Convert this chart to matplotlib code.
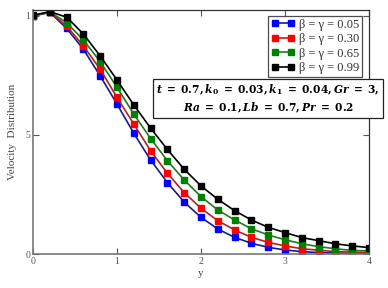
import numpy as np
import matplotlib
matplotlib.use("Agg")
import matplotlib.pyplot as plt

y_vals = [0.0, 0.2, 0.4, 0.6, 0.8, 1.0, 1.2, 1.4, 1.6, 1.8, 2.0, 2.2, 2.4, 2.6, 2.8, 3.0, 3.2, 3.4, 3.6, 3.8, 4.0]
v_005 = [1.0, 1.015, 0.948, 0.860, 0.748, 0.630, 0.507, 0.395, 0.300, 0.218, 0.154, 0.105, 0.070, 0.045, 0.028, 0.017, 0.010, 0.006, 0.004, 0.002, 0.001]
v_030 = [1.0, 1.016, 0.958, 0.874, 0.776, 0.658, 0.546, 0.434, 0.339, 0.258, 0.192, 0.140, 0.101, 0.070, 0.049, 0.034, 0.022, 0.016, 0.010, 0.008, 0.006]
v_065 = [1.0, 1.017, 0.972, 0.899, 0.808, 0.700, 0.588, 0.485, 0.392, 0.311, 0.241, 0.185, 0.143, 0.106, 0.080, 0.060, 0.043, 0.031, 0.022, 0.015, 0.013]
v_099 = [1.003, 1.018, 0.995, 0.924, 0.832, 0.731, 0.626, 0.529, 0.439, 0.356, 0.286, 0.230, 0.182, 0.143, 0.112, 0.090, 0.069, 0.056, 0.043, 0.034, 0.027]
labels = ["β = γ = 0.05", "β = γ = 0.30", "β = γ = 0.65", "β = γ = 0.99"]
series = [v_005, v_030, v_065, v_099]
line_colors = ["#1a1a8c", "#b22222", "#1f7a1f", "#000000"]
marker_colors = ["#0000ff", "#ff0000", "#008000", "#000000"]
xticks = [0, 1, 2, 3, 4]
yticks = [0, 0.5, 1]
yticklabels = ["0", "5", "1"]

plt.rcParams['font.family'] = ['Liberation Serif', 'DejaVu Serif']
plt.rcParams['mathtext.fontset'] = 'dejavuserif'

fig = plt.figure(figsize=(3.88, 2.88), dpi=100)
ax = fig.add_axes([33/388, 1-254/288, 336/388, 244/288])

for vals, lab, lc, mc in zip(series, labels, line_colors, marker_colors):
    ax.plot(y_vals, vals, '-', color=lc, lw=1.2, marker='s', ms=5,
            mfc=mc, mec=mc, label=lab)

ax.set_xlim(0, 4)
ax.set_ylim(0, 1.025)
ax.set_xticks(xticks)
ax.set_xticklabels([str(t) for t in xticks])
ax.set_yticks(yticks)
ax.set_yticklabels(yticklabels)
ax.tick_params(direction='in', length=4, labelsize=7, colors='#555555',
               top=True, right=True, pad=2)
for s in ['left', 'bottom']:
    ax.spines[s].set_color('#777777')
    ax.spines[s].set_linewidth(1.2)
for s in ['top', 'right']:
    ax.spines[s].set_color('#333333')
    ax.spines[s].set_linewidth(0.9)

ax.set_xlabel('y', fontsize=8, color='#444444', labelpad=2)
ax.set_ylabel('Velocity  Distribution', fontsize=8, color='#444444', labelpad=6)

leg = ax.legend(loc='upper right', bbox_to_anchor=(0.98, 0.977), fontsize=9,
                frameon=True, fancybox=False, edgecolor='#222222', numpoints=2,
                handlelength=1.9, handletextpad=0.35, borderpad=0.25,
                labelspacing=0.2, borderaxespad=0)
leg.get_frame().set_linewidth(0.9)
for t in leg.get_texts():
    t.set_color('#333333')

txt = (r'$\mathbfit{t}\ \mathbf{=\ 0.7,}\mathbfit{k}_\mathbf{0}\ \mathbf{=\ 0.03,}'
       r'\mathbfit{k}_\mathbf{1}\ \mathbf{=\ 0.04,}\mathbfit{Gr}\ \mathbf{=\ 3,}$' + '\n' +
       r'$\mathbfit{Ra}\ \mathbf{=\ 0.1,}\mathbfit{Lb}\ \mathbf{=\ 0.7,}\mathbfit{Pr}\ \mathbf{=\ 0.2}$')
ax.text(0.70, 0.637, txt, transform=ax.transAxes, ha='center', va='center',
        fontsize=7.7, linespacing=1.3, clip_on=False,
        bbox=dict(boxstyle='square,pad=0.28', fc='white', ec='#222222', lw=0.9))

fig.savefig('out.png', dpi=100)
